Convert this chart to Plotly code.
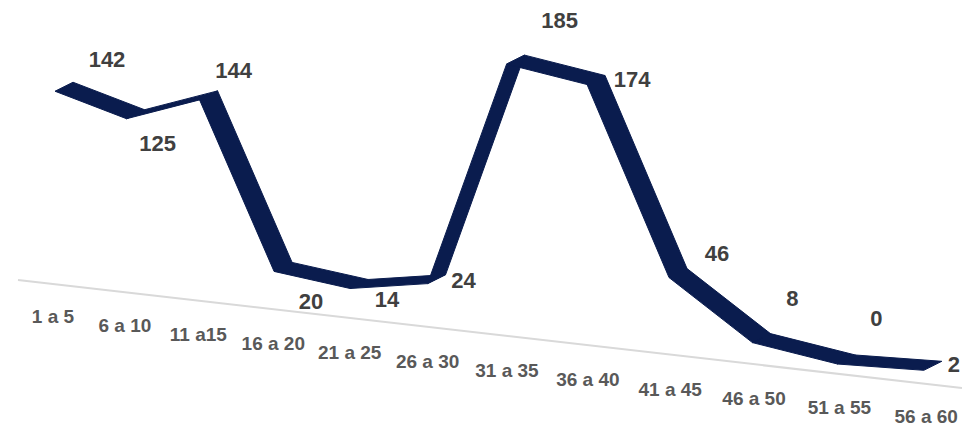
import plotly.graph_objects as go

# Number of people per age band
categories = ["1 a 5", "6 a 10", "11 a15", "16 a 20", "21 a 25", "26 a 30",
              "31 a 35", "36 a 40", "41 a 45", "46 a 50", "51 a 55", "56 a 60"]
values = [142, 125, 144, 20, 14, 24, 185, 174, 46, 8, 0, 2]

# Nudges for each value label (screen px, right / down)
label_dx = [34, 13, 16, 19, 19, 18, 35, 27, 30, 22, 21, 12]
label_dy = [-21, 36, -18, 41, 22, 8, -33, 6, -13, -33, -35, 5]

W, H = 962, 427
FONT = "Liberation Sans, Arial, sans-serif"
NAVY = "#0a1c4e"
DEPTH = (-18, 9)  # screen offset of the ribbon's back edge


def project(i, v):
    """Oblique perspective view of (category index, value) onto the canvas."""
    scale = 1 + 0.021 * i
    x = 73 + 70.8 * i + 0.744 * i * i
    y = 261 + 9.4 * i - 1.259 * scale * v
    return x, y


n = len(values)
pts = [project(i, v) for i, v in enumerate(values)]

# 3D ribbon: one quad per segment, all wound the same way
rx, ry = [], []
for i in range(n - 1):
    (x0, y0), (x1, y1) = pts[i], pts[i + 1]
    quad = [(x0, y0), (x1, y1), (x1 + DEPTH[0], y1 + DEPTH[1]), (x0 + DEPTH[0], y0 + DEPTH[1])]
    area = sum(quad[k][0] * quad[(k + 1) % 4][1] - quad[(k + 1) % 4][0] * quad[k][1]
               for k in range(4))
    if area < 0:
        quad.reverse()
    rx += [q[0] for q in quad] + [quad[0][0], None]
    ry += [q[1] for q in quad] + [quad[0][1], None]

fig = go.Figure()

fig.add_trace(go.Scatter(
    x=rx, y=ry, mode="lines", fill="toself", fillcolor=NAVY,
    line=dict(color=NAVY, width=1), hoverinfo="skip", showlegend=False,
))

# value labels
fig.add_trace(go.Scatter(
    x=[p[0] + dx for p, dx in zip(pts, label_dx)],
    y=[p[1] + dy for p, dy in zip(pts, label_dy)],
    mode="text", text=[str(v) for v in values],
    textfont=dict(family=FONT, size=22, color="#404040", weight="bold"),
    textposition="middle center", hoverinfo="skip", showlegend=False,
))

# category labels along the front of the floor
cx, cy = [], []
for i in range(n):
    x0, y0 = project(i, 0)
    cx.append(x0 - 20 + 0.4 * i)
    cy.append(y0 + 57 - 0.3 * i)
fig.add_trace(go.Scatter(
    x=cx, y=cy, mode="text", text=categories,
    textfont=dict(family=FONT, size=19, color="#595959", weight="bold"),
    textposition="middle center", hoverinfo="skip", showlegend=False,
))

# floor edge
fig.add_shape(type="line", x0=18, y0=280, x1=W, y1=388,
              line=dict(color="#d9d9d9", width=2), layer="below")

fig.update_layout(
    width=W, height=H, autosize=False,
    margin=dict(l=0, r=0, t=0, b=0),
    paper_bgcolor="white", plot_bgcolor="white",
    xaxis=dict(range=[0, W], visible=False, fixedrange=True),
    yaxis=dict(range=[H, 0], visible=False, fixedrange=True),
    hovermode=False,
)

fig.write_html("out.html")
